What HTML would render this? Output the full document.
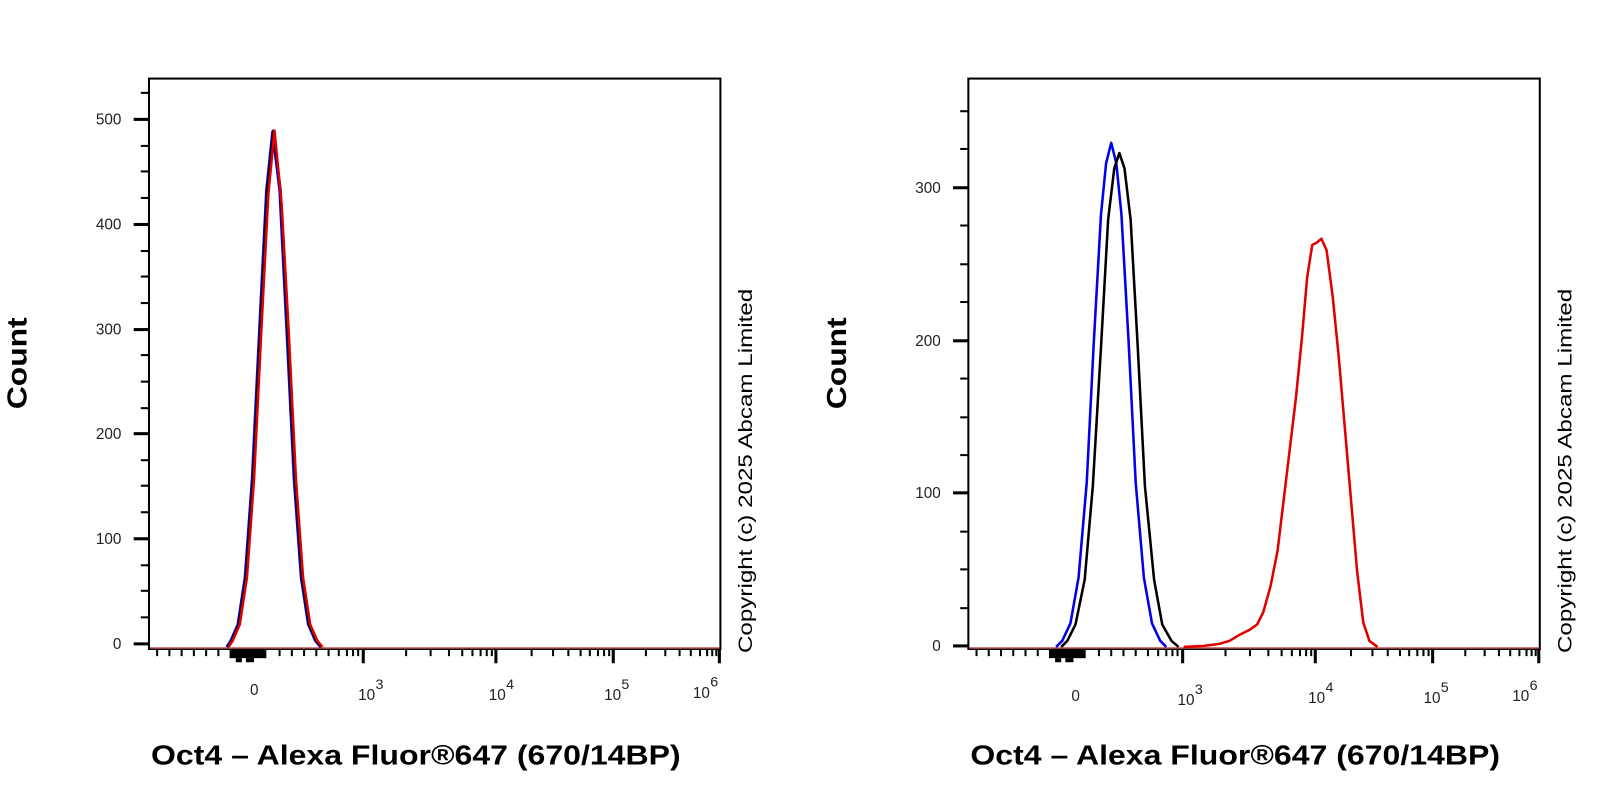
<!DOCTYPE html>
<html><head><meta charset="utf-8"><style>
html,body{margin:0;padding:0;background:#fff;}
svg{display:block;}
text{font-family:"Liberation Sans",Arial,sans-serif;}
</style></head><body>
<svg width="1600" height="800" viewBox="0 0 1600 800" xmlns="http://www.w3.org/2000/svg">
<rect width="1600" height="800" fill="#fff"/>
<g transform="scale(1.0204)">
<!-- LEFT PLOT -->
<g>
<rect x="146" y="77" width="560" height="559" fill="none" stroke="#000" stroke-width="2"/>
<g stroke="#000" stroke-width="3">
<line x1="131" y1="631" x2="146" y2="631"/><line x1="131" y1="528" x2="146" y2="528"/><line x1="131" y1="425" x2="146" y2="425"/><line x1="131" y1="323" x2="146" y2="323"/><line x1="131" y1="220" x2="146" y2="220"/><line x1="131" y1="117" x2="146" y2="117"/>
</g>
<g stroke="#000" stroke-width="2">
<line x1="138" y1="605" x2="146" y2="605"/><line x1="138" y1="579" x2="146" y2="579"/><line x1="138" y1="554" x2="146" y2="554"/>
<line x1="138" y1="502" x2="146" y2="502"/><line x1="138" y1="476" x2="146" y2="476"/><line x1="138" y1="451" x2="146" y2="451"/>
<line x1="138" y1="400" x2="146" y2="400"/><line x1="138" y1="374" x2="146" y2="374"/><line x1="138" y1="348" x2="146" y2="348"/>
<line x1="138" y1="297" x2="146" y2="297"/><line x1="138" y1="271" x2="146" y2="271"/><line x1="138" y1="246" x2="146" y2="246"/>
<line x1="138" y1="194" x2="146" y2="194"/><line x1="138" y1="168" x2="146" y2="168"/><line x1="138" y1="143" x2="146" y2="143"/>
<line x1="138" y1="91" x2="146" y2="91"/>
</g>
<g font-size="15" fill="#222" text-anchor="end">
<text x="119" y="636">0</text><text x="119" y="533">100</text><text x="119" y="430">200</text><text x="119" y="328">300</text><text x="119" y="225">400</text><text x="119" y="122">500</text>
</g>
<g stroke="#000" stroke-width="2">
<line x1="154" y1="636" x2="154" y2="643"/><line x1="166" y1="636" x2="166" y2="643"/><line x1="178" y1="636" x2="178" y2="643"/><line x1="190" y1="636" x2="190" y2="643"/><line x1="202" y1="636" x2="202" y2="643"/><line x1="214" y1="636" x2="214" y2="643"/>
<line x1="274" y1="636" x2="274" y2="643"/><line x1="286" y1="636" x2="286" y2="643"/><line x1="298" y1="636" x2="298" y2="643"/><line x1="310" y1="636" x2="310" y2="643"/><line x1="322" y1="636" x2="322" y2="643"/><line x1="332" y1="636" x2="332" y2="643"/><line x1="340" y1="636" x2="340" y2="643"/><line x1="346" y1="636" x2="346" y2="643"/><line x1="351" y1="636" x2="351" y2="643"/>
<line x1="398" y1="636" x2="398" y2="643"/><line x1="422" y1="636" x2="422" y2="643"/><line x1="440" y1="636" x2="440" y2="643"/><line x1="453" y1="636" x2="453" y2="643"/><line x1="463" y1="636" x2="463" y2="643"/><line x1="471" y1="636" x2="471" y2="643"/><line x1="477" y1="636" x2="477" y2="643"/><line x1="482" y1="636" x2="482" y2="643"/>
<line x1="521" y1="636" x2="521" y2="643"/><line x1="542" y1="636" x2="542" y2="643"/><line x1="557" y1="636" x2="557" y2="643"/><line x1="569" y1="636" x2="569" y2="643"/><line x1="578" y1="636" x2="578" y2="643"/><line x1="586" y1="636" x2="586" y2="643"/><line x1="592" y1="636" x2="592" y2="643"/><line x1="597" y1="636" x2="597" y2="643"/>
<line x1="633" y1="636" x2="633" y2="643"/><line x1="652" y1="636" x2="652" y2="643"/><line x1="666" y1="636" x2="666" y2="643"/><line x1="677" y1="636" x2="677" y2="643"/><line x1="686" y1="636" x2="686" y2="643"/><line x1="693" y1="636" x2="693" y2="643"/><line x1="698" y1="636" x2="698" y2="643"/><line x1="702" y1="636" x2="702" y2="643"/>
</g>
<g stroke="#000" stroke-width="3">
<line x1="356" y1="636" x2="356" y2="650"/><line x1="486" y1="636" x2="486" y2="650"/><line x1="601" y1="636" x2="601" y2="650"/><line x1="705" y1="636" x2="705" y2="650"/>
</g>
<rect x="225" y="636" width="36" height="9" fill="#000"/>
<rect x="231" y="645" width="6" height="4" fill="#000"/><rect x="241" y="645" width="8" height="4" fill="#000"/>
<g font-size="15" fill="#222">
<text x="245" y="681">0</text>
<text x="351" y="686">10</text><text x="368" y="675" font-size="14">3</text>
<text x="479" y="686">10</text><text x="496" y="675" font-size="14">4</text>
<text x="592" y="686">10</text><text x="609" y="675" font-size="14">5</text>
<text x="679" y="684">10</text><text x="696" y="673" font-size="14">6</text>
</g>
<line x1="147" y1="635" x2="705" y2="635" stroke="#c05050" stroke-width="1.5"/>
<g fill="none" stroke-width="2.5" stroke-linejoin="round">
<polyline stroke="#0000ee" points="222,634 226,628 233,612 240,566 247,469 254,326 261,187 267,129 274,187 281,326 288,469 295,566 302,612 309,628 314,634"/>
<polyline stroke="#000" points="223,634 227,628 234,612 241,566 248,469 255,326 262,187 268,128 275,187 282,326 289,469 296,566 303,612 310,628 315,634"/>
<polyline stroke="#e00000" points="224,634 228,628 235,612 242,566 249,469 256,326 263,190 269,128 276,200 283,326 290,469 297,566 304,612 311,628 316,634"/>
</g>
<text x="0" y="0" font-size="27" font-weight="bold" fill="#000" textLength="90" lengthAdjust="spacingAndGlyphs" transform="translate(26,401) rotate(-90)">Count</text>
<text x="148" y="749" font-size="27" font-weight="bold" fill="#000" textLength="519" lengthAdjust="spacingAndGlyphs">Oct4 – Alexa Fluor®647 (670/14BP)</text>
<text x="0" y="0" font-size="19" fill="#000" textLength="357" lengthAdjust="spacingAndGlyphs" transform="translate(737,640) rotate(-90)">Copyright (c) 2025 Abcam Limited</text>
</g>
<!-- RIGHT PLOT -->
<g>
<rect x="949" y="77" width="560" height="559" fill="none" stroke="#000" stroke-width="2"/>
<g stroke="#000" stroke-width="3">
<line x1="934" y1="633" x2="949" y2="633"/><line x1="934" y1="483" x2="949" y2="483"/><line x1="934" y1="334" x2="949" y2="334"/><line x1="934" y1="184" x2="949" y2="184"/>
</g>
<g stroke="#000" stroke-width="2">
<line x1="941" y1="596" x2="949" y2="596"/><line x1="941" y1="558" x2="949" y2="558"/><line x1="941" y1="521" x2="949" y2="521"/>
<line x1="941" y1="446" x2="949" y2="446"/><line x1="941" y1="409" x2="949" y2="409"/><line x1="941" y1="371" x2="949" y2="371"/>
<line x1="941" y1="296" x2="949" y2="296"/><line x1="941" y1="259" x2="949" y2="259"/><line x1="941" y1="221" x2="949" y2="221"/>
<line x1="941" y1="146" x2="949" y2="146"/><line x1="941" y1="109" x2="949" y2="109"/>
</g>
<g font-size="15" fill="#222" text-anchor="end">
<text x="922" y="638">0</text><text x="922" y="488">100</text><text x="922" y="339">200</text><text x="922" y="189">300</text>
</g>
<g stroke="#000" stroke-width="2">
<line x1="957" y1="636" x2="957" y2="643"/><line x1="969" y1="636" x2="969" y2="643"/><line x1="981" y1="636" x2="981" y2="643"/><line x1="993" y1="636" x2="993" y2="643"/><line x1="1005" y1="636" x2="1005" y2="643"/><line x1="1017" y1="636" x2="1017" y2="643"/>
<line x1="1077" y1="636" x2="1077" y2="643"/><line x1="1089" y1="636" x2="1089" y2="643"/><line x1="1101" y1="636" x2="1101" y2="643"/><line x1="1113" y1="636" x2="1113" y2="643"/><line x1="1125" y1="636" x2="1125" y2="643"/><line x1="1135" y1="636" x2="1135" y2="643"/><line x1="1143" y1="636" x2="1143" y2="643"/><line x1="1149" y1="636" x2="1149" y2="643"/><line x1="1154" y1="636" x2="1154" y2="643"/>
<line x1="1201" y1="636" x2="1201" y2="643"/><line x1="1225" y1="636" x2="1225" y2="643"/><line x1="1243" y1="636" x2="1243" y2="643"/><line x1="1256" y1="636" x2="1256" y2="643"/><line x1="1266" y1="636" x2="1266" y2="643"/><line x1="1274" y1="636" x2="1274" y2="643"/><line x1="1280" y1="636" x2="1280" y2="643"/><line x1="1285" y1="636" x2="1285" y2="643"/>
<line x1="1324" y1="636" x2="1324" y2="643"/><line x1="1345" y1="636" x2="1345" y2="643"/><line x1="1360" y1="636" x2="1360" y2="643"/><line x1="1372" y1="636" x2="1372" y2="643"/><line x1="1381" y1="636" x2="1381" y2="643"/><line x1="1389" y1="636" x2="1389" y2="643"/><line x1="1395" y1="636" x2="1395" y2="643"/><line x1="1400" y1="636" x2="1400" y2="643"/>
<line x1="1436" y1="636" x2="1436" y2="643"/><line x1="1455" y1="636" x2="1455" y2="643"/><line x1="1469" y1="636" x2="1469" y2="643"/><line x1="1480" y1="636" x2="1480" y2="643"/><line x1="1489" y1="636" x2="1489" y2="643"/><line x1="1496" y1="636" x2="1496" y2="643"/><line x1="1501" y1="636" x2="1501" y2="643"/><line x1="1505" y1="636" x2="1505" y2="643"/>
</g>
<g stroke="#000" stroke-width="3">
<line x1="1159" y1="636" x2="1159" y2="650"/><line x1="1289" y1="636" x2="1289" y2="650"/><line x1="1404" y1="636" x2="1404" y2="650"/><line x1="1508" y1="636" x2="1508" y2="650"/>
</g>
<rect x="1028" y="636" width="36" height="9" fill="#000"/>
<rect x="1034" y="645" width="6" height="4" fill="#000"/><rect x="1044" y="645" width="8" height="4" fill="#000"/>
<g font-size="15" fill="#222">
<text x="1050" y="687">0</text>
<text x="1154" y="691">10</text><text x="1171" y="680" font-size="14">3</text>
<text x="1282" y="689">10</text><text x="1299" y="678" font-size="14">4</text>
<text x="1395" y="689">10</text><text x="1412" y="678" font-size="14">5</text>
<text x="1482" y="687">10</text><text x="1499" y="676" font-size="14">6</text>
</g>
<line x1="950" y1="635" x2="1508" y2="635" stroke="#c05050" stroke-width="1.5"/>
<g fill="none" stroke-width="2.5" stroke-linejoin="round">
<polyline stroke="#0000ee" points="1035,634 1041,628 1049,611 1057,566 1065,473 1072,334 1079,210 1084,160 1089,140 1094,160 1099,210 1106,334 1113,473 1121,566 1129,611 1137,628 1143,634"/>
<polyline stroke="#000" points="1040,634 1046,628 1054,612 1063,568 1071,476 1079,340 1086,215 1092,165 1097,150 1102,165 1108,215 1115,340 1122,476 1131,568 1139,612 1148,628 1155,634"/>
<polyline stroke="#e00000" points="1160,634 1180,633 1195,631 1205,628 1215,622 1225,617 1232,612 1238,600 1245,575 1252,540 1258,490 1264,440 1270,390 1276,330 1281,272 1286,240 1290,238 1295,234 1300,245 1306,290 1312,350 1318,420 1324,490 1330,560 1336,610 1342,628 1350,634"/>
</g>
<text x="0" y="0" font-size="27" font-weight="bold" fill="#000" textLength="90" lengthAdjust="spacingAndGlyphs" transform="translate(829,401) rotate(-90)">Count</text>
<text x="951" y="749" font-size="27" font-weight="bold" fill="#000" textLength="519" lengthAdjust="spacingAndGlyphs">Oct4 – Alexa Fluor®647 (670/14BP)</text>
<text x="0" y="0" font-size="19" fill="#000" textLength="357" lengthAdjust="spacingAndGlyphs" transform="translate(1540,640) rotate(-90)">Copyright (c) 2025 Abcam Limited</text>
</g>
</g>
</svg>
</body></html>
